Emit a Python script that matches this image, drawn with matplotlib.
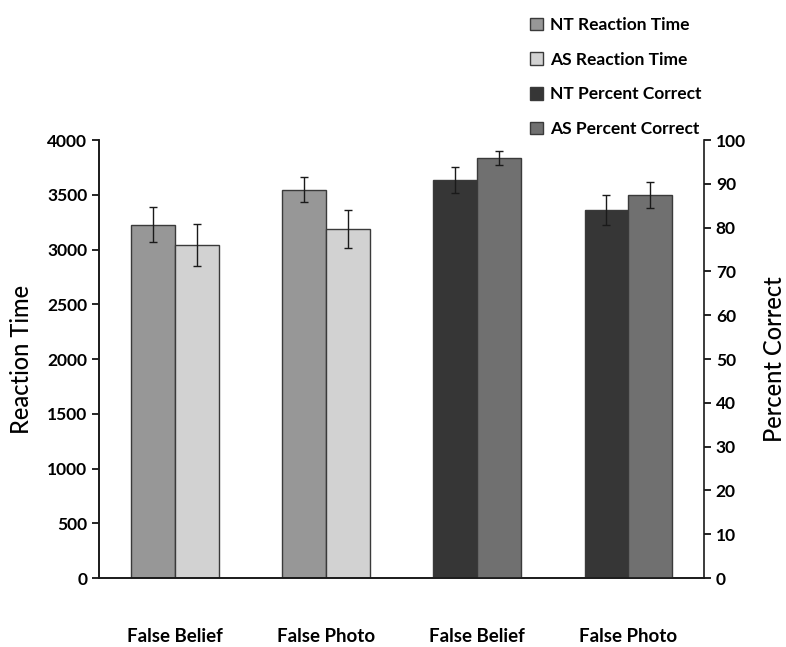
import numpy as np
import matplotlib
matplotlib.use('Agg')
import matplotlib.pyplot as plt
from matplotlib.patches import Patch

plt.rcParams['font.family'] = ['Lato', 'DejaVu Sans']

# Data
categories = ['False Belief', 'False Photo', 'False Belief', 'False Photo']

rt_nt = [3225, 3545]
rt_nt_err = [160, 115]
rt_as = [3040, 3190]
rt_as_err = [190, 175]

pc_nt = [90.9, 84.0]
pc_nt_err = [2.9, 3.4]
pc_as = [96.0, 87.5]
pc_as_err = [1.6, 3.0]

series_labels = ['NT Reaction Time', 'AS Reaction Time',
                 'NT Percent Correct', 'AS Percent Correct']
colors = ['#979797', '#d2d2d2', '#363636', '#707070']

fig = plt.figure(figsize=(7.86, 6.47), dpi=100)
ax = fig.add_axes([0.126, 0.1066, 0.7697, 0.677])
ax2 = ax.twinx()

width = 0.29
centers = np.arange(4) + 0.5
edge = '#3a3a3a'
err_kw = dict(ecolor='#1a1a1a', elinewidth=1.0, capsize=3, capthick=1.0)

# reaction time bars on left axis
ax.bar(centers[:2] - width / 2, rt_nt, width, yerr=rt_nt_err, color=colors[0],
       edgecolor=edge, linewidth=1.0, error_kw=err_kw)
ax.bar(centers[:2] + width / 2, rt_as, width, yerr=rt_as_err, color=colors[1],
       edgecolor=edge, linewidth=1.0, error_kw=err_kw)

# percent correct bars on right axis
ax2.bar(centers[2:] - width / 2, pc_nt, width, yerr=pc_nt_err, color=colors[2],
        edgecolor=edge, linewidth=1.0, error_kw=err_kw)
ax2.bar(centers[2:] + width / 2, pc_as, width, yerr=pc_as_err, color=colors[3],
        edgecolor=edge, linewidth=1.0, error_kw=err_kw)

ax.set_xlim(0, 4)
ax.set_ylim(0, 4000)
ax2.set_ylim(0, 100)
ax.set_yticks(np.arange(0, 4001, 500))
ax2.set_yticks(np.arange(0, 101, 10))

for a in (ax, ax2):
    a.spines['top'].set_visible(False)
    for s in a.spines.values():
        s.set_linewidth(1.2)
        s.set_color('#1a1a1a')
ax.spines['right'].set_visible(False)

ax.set_xticks(centers)
ax.set_xticklabels(categories, fontsize=13.5, fontweight='bold')
ax.tick_params(axis='x', length=0, pad=36)
ax.tick_params(axis='y', direction='out', length=5, width=1.2, labelsize=12.5)
ax2.tick_params(axis='y', direction='out', length=5, width=1.2, labelsize=12.5)
for lbl in ax.get_yticklabels() + ax2.get_yticklabels():
    lbl.set_fontweight('bold')

ax.set_ylabel('Reaction Time', fontsize=17, fontweight='medium', labelpad=10)
ax2.set_ylabel('Percent Correct', fontsize=17, fontweight='medium', labelpad=12)

handles = [Patch(facecolor=c, edgecolor=edge, linewidth=1.0) for c in colors]
fig.legend(handles, series_labels, loc='upper left',
           bbox_to_anchor=(0.655, 0.998), frameon=False,
           prop={'size': 12.5, 'weight': 'bold'},
           handlelength=0.75, handleheight=0.75, handletextpad=0.4,
           labelspacing=1.08)

fig.savefig('out.png', dpi=100)
